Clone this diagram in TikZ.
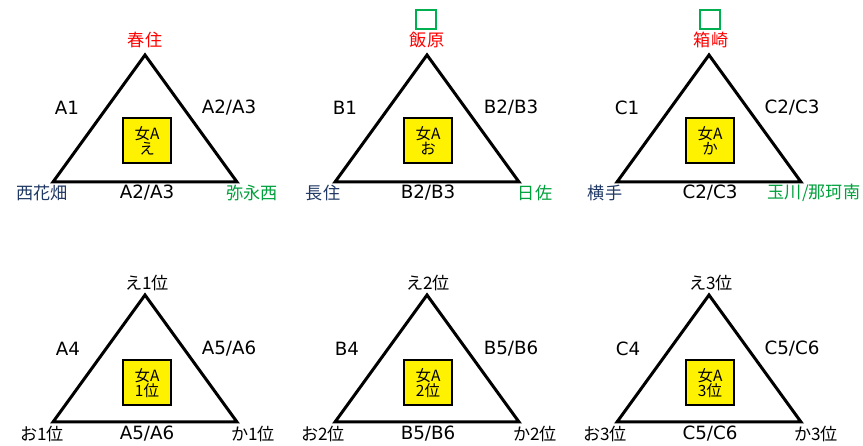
\documentclass[tikz,border=0pt]{standalone}
\usepackage{fontspec}
\setmainfont{DejaVu Sans}
\newfontfamily\jp{Noto Sans CJK JP}
\definecolor{placered}{RGB}{255,0,0}
\definecolor{placeblue}{RGB}{31,56,100}
\definecolor{placegreen}{RGB}{0,160,60}
\definecolor{markgreen}{RGB}{0,176,80}
\begin{document}
\begin{tikzpicture}[
    tri/.style={line width=0.075cm, line join=miter},
    ansbox/.style={draw, line width=0.05cm, fill=yellow, minimum width=1.2cm, minimum height=1.125cm,
        inner sep=0pt, align=center, font=\jp\fontsize{11}{10.5}\selectfont},
    lbl/.style={inner sep=0pt, font=\fontsize{13}{15}\selectfont},
    place/.style={inner sep=0pt, font=\jp\fontsize{12.2}{14}\selectfont},
    emptybox/.style={draw=markgreen, line width=0.05cm, minimum width=0.5cm, minimum height=0.475cm, inner sep=0pt}]
                \useasboundingbox (0.000000,0.000000) rectangle (21.575000,11.150000);
                
                % Drawing triangle A (top left)
                \coordinate (a-top) at (3.625000,9.775000);%
                \coordinate (a-left) at (1.325000,6.600000);%
                \coordinate (a-right) at (5.925000,6.600000);%
                \draw [tri] (a-top) -- (a-left) -- (a-right) -- cycle;%
                \node [ansbox] (a-box) at (3.675000,7.638000) {女A\\え};%
                \node [place, text=placered] (a-toplbl) at (3.625000,10.150000) {春住};%
                \node [place, text=placeblue] (a-leftlbl) at (1.050000,6.325000) {西花畑};%
                \node [place, text=placegreen] (a-rightlbl) at (6.300000,6.325000) {弥永西};%
                \node [lbl] (a-side1) at (1.675000,8.450000) {A1};%
                \node [lbl] (a-side2) at (5.725000,8.450000) {A2/A3};%
                \node [lbl] (a-base) at (3.675000,6.325000) {A2/A3};%
                
                % Drawing triangle B (top middle)
                \coordinate (b-top) at (10.675000,9.775000);%
                \coordinate (b-left) at (8.375000,6.600000);%
                \coordinate (b-right) at (12.975000,6.600000);%
                \draw [tri] (b-top) -- (b-left) -- (b-right) -- cycle;%
                \node [ansbox] (b-box) at (10.700000,7.638000) {女A\\お};%
                \node [emptybox] (b-mark) at (10.662000,10.650000) {};%
                \node [place, text=placered] (b-toplbl) at (10.675000,10.150000) {飯原};%
                \node [place, text=placeblue] (b-leftlbl) at (8.075000,6.325000) {長住};%
                \node [place, text=placegreen] (b-rightlbl) at (13.375000,6.325000) {日佐};%
                \node [lbl] (b-side1) at (8.625000,8.450000) {B1};%
                \node [lbl] (b-side2) at (12.775000,8.450000) {B2/B3};%
                \node [lbl] (b-base) at (10.700000,6.325000) {B2/B3};%
                
                % Drawing triangle C (top right)
                \coordinate (c-top) at (17.725000,9.775000);%
                \coordinate (c-left) at (15.425000,6.600000);%
                \coordinate (c-right) at (20.025000,6.600000);%
                \draw [tri] (c-top) -- (c-left) -- (c-right) -- cycle;%
                \node [ansbox] (c-box) at (17.750000,7.638000) {女A\\か};%
                \node [emptybox] (c-mark) at (17.750000,10.650000) {};%
                \node [place, text=placered] (c-toplbl) at (17.775000,10.150000) {箱崎};%
                \node [place, text=placeblue] (c-leftlbl) at (15.125000,6.325000) {横手};%
                \node [place, text=placegreen] (c-rightlbl) at (20.350000,6.325000) {玉川/那珂南};%
                \node [lbl] (c-side1) at (15.675000,8.450000) {C1};%
                \node [lbl] (c-side2) at (19.800000,8.450000) {C2/C3};%
                \node [lbl] (c-base) at (17.750000,6.325000) {C2/C3};%
                
                % Drawing triangle A rank (bottom left)
                \coordinate (ar-top) at (3.625000,3.775000);%
                \coordinate (ar-left) at (1.325000,0.600000);%
                \coordinate (ar-right) at (5.925000,0.600000);%
                \draw [tri] (ar-top) -- (ar-left) -- (ar-right) -- cycle;%
                \node [ansbox] (ar-box) at (3.675000,1.575000) {女A\\1位};%
                \node [place] (ar-toplbl) at (3.675000,4.075000) {え1位};%
                \node [place] (ar-leftlbl) at (1.050000,0.300000) {お1位};%
                \node [place] (ar-rightlbl) at (6.325000,0.300000) {か1位};%
                \node [lbl] (ar-side1) at (1.700000,2.425000) {A4};%
                \node [lbl] (ar-side2) at (5.725000,2.425000) {A5/A6};%
                \node [lbl] (ar-base) at (3.675000,0.300000) {A5/A6};%
                
                % Drawing triangle B rank (bottom middle)
                \coordinate (br-top) at (10.675000,3.775000);%
                \coordinate (br-left) at (8.375000,0.600000);%
                \coordinate (br-right) at (12.975000,0.600000);%
                \draw [tri] (br-top) -- (br-left) -- (br-right) -- cycle;%
                \node [ansbox] (br-box) at (10.700000,1.575000) {女A\\2位};%
                \node [place] (br-toplbl) at (10.700000,4.075000) {え2位};%
                \node [place] (br-leftlbl) at (8.075000,0.300000) {お2位};%
                \node [place] (br-rightlbl) at (13.375000,0.300000) {か2位};%
                \node [lbl] (br-side1) at (8.675000,2.425000) {B4};%
                \node [lbl] (br-side2) at (12.775000,2.425000) {B5/B6};%
                \node [lbl] (br-base) at (10.700000,0.300000) {B5/B6};%
                
                % Drawing triangle C rank (bottom right)
                \coordinate (cr-top) at (17.725000,3.775000);%
                \coordinate (cr-left) at (15.425000,0.600000);%
                \coordinate (cr-right) at (20.025000,0.600000);%
                \draw [tri] (cr-top) -- (cr-left) -- (cr-right) -- cycle;%
                \node [ansbox] (cr-box) at (17.750000,1.575000) {女A\\3位};%
                \node [place] (cr-toplbl) at (17.775000,4.075000) {え3位};%
                \node [place] (cr-leftlbl) at (15.125000,0.300000) {お3位};%
                \node [place] (cr-rightlbl) at (20.400000,0.300000) {か3位};%
                \node [lbl] (cr-side1) at (15.700000,2.425000) {C4};%
                \node [lbl] (cr-side2) at (19.800000,2.425000) {C5/C6};%
                \node [lbl] (cr-base) at (17.750000,0.300000) {C5/C6};%
\end{tikzpicture}
\end{document}
